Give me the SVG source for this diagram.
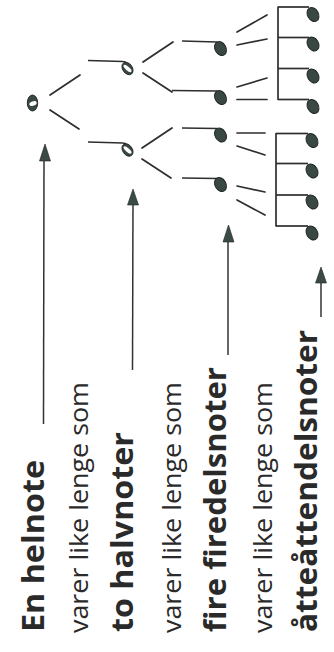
<svg xmlns="http://www.w3.org/2000/svg" width="334" height="652" viewBox="0 0 334 652">
<style>
.bg{fill:#ffffff}
.ln{stroke:#2e2e2e;stroke-width:1.7;fill:none;stroke-linecap:round}
.stem{stroke:#2e2e2e;stroke-width:1.7;fill:none}
.head{fill:#3a4843;stroke:#1f2624;stroke-width:0.9}
.hole{fill:#ffffff}
.arr{stroke:#333;stroke-width:1.5;fill:none}
.ah{fill:#3a4a45;stroke:#222;stroke-width:0.6}
.b{font-family:"Open Sans","Liberation Sans",sans-serif;font-weight:700;font-size:30px;fill:#2a2a2a}
.r{font-family:"Open Sans","Liberation Sans",sans-serif;font-weight:400;font-size:26px;fill:#2a2a2a}
</style>
<rect class="bg" x="0" y="0" width="334" height="652"/>

<g id="connectors">
  <line class="ln" x1="50" y1="95" x2="80" y2="75"/>
  <line class="ln" x1="50" y1="110" x2="79" y2="129"/>
  <line class="ln" x1="143" y1="62" x2="173" y2="42"/>
  <line class="ln" x1="143" y1="73" x2="172" y2="92"/>
  <line class="ln" x1="142" y1="148" x2="172" y2="128"/>
  <line class="ln" x1="142" y1="159" x2="171" y2="178"/>
  <line class="ln" x1="237" y1="32" x2="267" y2="15"/>
  <line class="ln" x1="237" y1="45" x2="267" y2="39"/>
  <line class="ln" x1="237" y1="87" x2="267" y2="78"/>
  <line class="ln" x1="237" y1="99.5" x2="267" y2="99.5"/>
  <line class="ln" x1="237" y1="133" x2="265" y2="133"/>
  <line class="ln" x1="237" y1="146" x2="265" y2="155"/>
  <line class="ln" x1="237" y1="186" x2="265" y2="192"/>
  <line class="ln" x1="237" y1="200" x2="265" y2="215"/>
  <g id="arrow-1">
    <line class="arr" x1="44" y1="158" x2="43.5" y2="424"/>
    <polygon class="ah" points="45,144 50.5,161 39.5,161"/>
  </g>
  <g id="arrow-2">
    <line class="arr" x1="133" y1="203" x2="132.5" y2="370"/>
    <polygon class="ah" points="133,189 138.5,205 127.5,205"/>
  </g>
  <g id="arrow-3">
    <line class="arr" x1="228" y1="240" x2="228" y2="355"/>
    <polygon class="ah" points="228.5,225 234,242 223,242"/>
  </g>
  <g id="arrow-4">
    <line class="arr" x1="321" y1="281" x2="321" y2="317"/>
    <polygon class="ah" points="321,267 326.5,283 315.5,283"/>
  </g>
</g>

<g id="whole-note">
  <ellipse class="head" cx="32.5" cy="103" rx="5.2" ry="8"/>
  <ellipse class="hole" cx="33" cy="103.5" rx="3.8" ry="2.2" transform="rotate(-20 33 103.5)"/>
</g>

<g id="half-note-1">
  <path class="stem" d="M88,60.5 L123,61.5 Q126,61.5 126,64"/>
  <ellipse class="head" cx="127.5" cy="68.5" rx="4.8" ry="6.8" transform="rotate(-35 127.5 68.5)"/>
  <ellipse class="hole" cx="127.5" cy="68.5" rx="1.8" ry="5" transform="rotate(-50 127.5 68.5)"/>
</g>
<g id="half-note-2">
  <path class="stem" d="M88,142 L123,143 Q126,143 126,145.5"/>
  <ellipse class="head" cx="127.5" cy="150" rx="4.8" ry="6.8" transform="rotate(-35 127.5 150)"/>
  <ellipse class="hole" cx="127.5" cy="150" rx="1.8" ry="5" transform="rotate(-50 127.5 150)"/>
</g>

<g id="quarter-note-1">
  <line class="stem" x1="182" y1="41" x2="217" y2="42"/>
  <ellipse class="head" cx="220.5" cy="48.5" rx="5.5" ry="7.4" transform="rotate(-30 220.5 48.5)"/>
</g>
<g id="quarter-note-2">
  <line class="stem" x1="172" y1="90.5" x2="217" y2="91"/>
  <ellipse class="head" cx="220.5" cy="97.5" rx="5.5" ry="7.4" transform="rotate(-30 220.5 97.5)"/>
</g>
<g id="quarter-note-3">
  <line class="stem" x1="182" y1="128" x2="217" y2="128.5"/>
  <ellipse class="head" cx="220.5" cy="135" rx="5.5" ry="7.4" transform="rotate(-30 220.5 135)"/>
</g>
<g id="quarter-note-4">
  <line class="stem" x1="182" y1="178" x2="217" y2="178.5"/>
  <ellipse class="head" cx="220.5" cy="184.5" rx="5.5" ry="7.4" transform="rotate(-30 220.5 184.5)"/>
</g>

<g id="eighth-group-1">
  <line class="stem" x1="278" y1="6.5" x2="278" y2="100"/>
  <line class="stem" x1="278" y1="7" x2="309" y2="7"/>
  <line class="stem" x1="278" y1="37.5" x2="309" y2="37.5"/>
  <line class="stem" x1="278" y1="68.5" x2="309" y2="68.5"/>
  <line class="stem" x1="278" y1="99.5" x2="309" y2="99.5"/>
  <ellipse class="head" cx="313" cy="14.5" rx="5.5" ry="7.4" transform="rotate(-30 313 14.5)"/>
  <ellipse class="head" cx="313" cy="44" rx="5.5" ry="7.4" transform="rotate(-30 313 44)"/>
  <ellipse class="head" cx="313" cy="76" rx="5.5" ry="7.4" transform="rotate(-30 313 76)"/>
  <ellipse class="head" cx="313" cy="106.5" rx="5.5" ry="7.4" transform="rotate(-30 313 106.5)"/>
</g>
<g id="eighth-group-2">
  <line class="stem" x1="276" y1="133" x2="276" y2="226.5"/>
  <line class="stem" x1="276" y1="133.5" x2="308" y2="133.5"/>
  <line class="stem" x1="276" y1="163.5" x2="308" y2="163.5"/>
  <line class="stem" x1="276" y1="195" x2="308" y2="195"/>
  <line class="stem" x1="276" y1="226" x2="308" y2="226"/>
  <ellipse class="head" cx="312" cy="140.5" rx="5.5" ry="7.4" transform="rotate(-30 312 140.5)"/>
  <ellipse class="head" cx="312" cy="171" rx="5.5" ry="7.4" transform="rotate(-30 312 171)"/>
  <ellipse class="head" cx="312" cy="202" rx="5.5" ry="7.4" transform="rotate(-30 312 202)"/>
  <ellipse class="head" cx="312" cy="233" rx="5.5" ry="7.4" transform="rotate(-30 312 233)"/>
</g>

<g id="label-1"><text class="b" transform="translate(43.5,632) rotate(-90)" textLength="172" lengthAdjust="spacingAndGlyphs">En helnote</text></g>
<g id="label-2"><text class="r" transform="translate(88,633) rotate(-90)" textLength="251" lengthAdjust="spacingAndGlyphs">varer like lenge som</text></g>
<g id="label-3"><text class="b" transform="translate(133,632) rotate(-90)" textLength="200" lengthAdjust="spacingAndGlyphs">to halvnoter</text></g>
<g id="label-4"><text class="r" transform="translate(181,633) rotate(-90)" textLength="251" lengthAdjust="spacingAndGlyphs">varer like lenge som</text></g>
<g id="label-5"><text class="b" transform="translate(226,632) rotate(-90)" textLength="265" lengthAdjust="spacingAndGlyphs">fire firedelsnoter</text></g>
<g id="label-6"><text class="r" transform="translate(272,633) rotate(-90)" textLength="251" lengthAdjust="spacingAndGlyphs">varer like lenge som</text></g>
<g id="label-7"><text class="b" transform="translate(317,632) rotate(-90)" textLength="302" lengthAdjust="spacingAndGlyphs">åtteåttendelsnoter</text></g>
</svg>
